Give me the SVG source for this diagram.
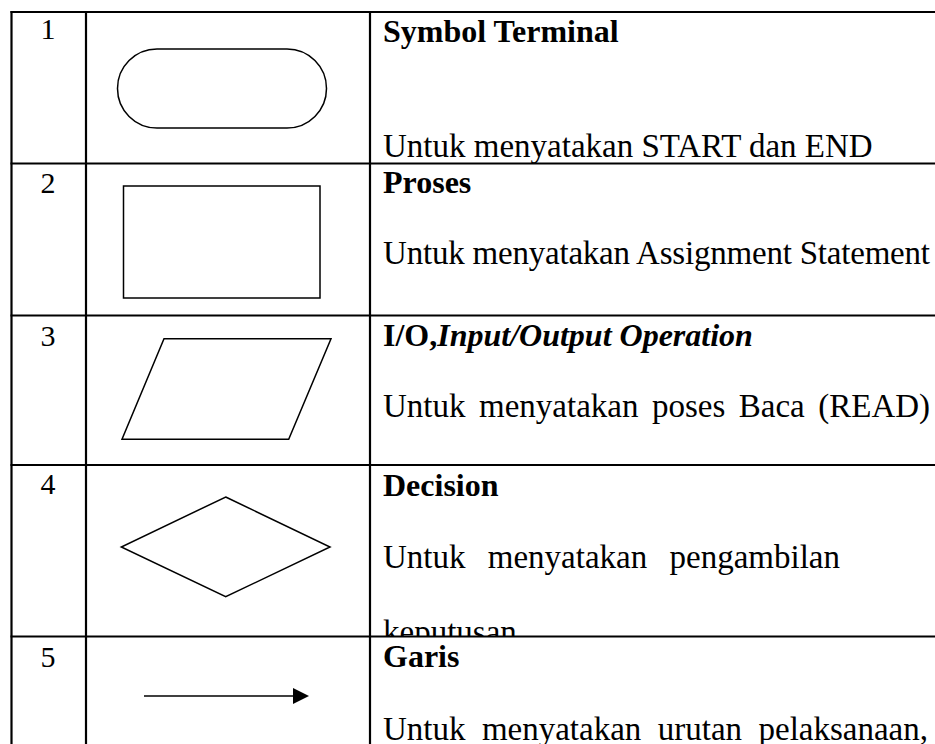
<svg xmlns="http://www.w3.org/2000/svg" width="935" height="744" viewBox="0 0 935 744">
  <style>
    .grid { stroke: #000; stroke-width: 2.2; fill: none; }
    .shape { stroke: #000; stroke-width: 1.5; fill: none; }
    .num { font-family: "Liberation Serif", "Times New Roman", serif; font-size: 30px; fill: #000; text-anchor: middle; }
    .head { font-family: "Liberation Serif", "Times New Roman", serif; font-size: 32px; font-weight: bold; fill: #000; }
    .body { font-family: "Liberation Serif", "Times New Roman", serif; font-size: 33px; fill: #000; }
  </style>
  <defs>
    <clipPath id="cell4">
      <rect x="371" y="466" width="564" height="170"/>
    </clipPath>
  </defs>
  <rect x="0" y="0" width="935" height="744" fill="#fff"/>

  <!-- table rules -->
  <g id="table">
    <line class="grid" x1="10.5" y1="12" x2="935" y2="12"/>
    <line class="grid" x1="10.5" y1="163.5" x2="935" y2="163.5"/>
    <line class="grid" x1="10.5" y1="315.5" x2="935" y2="315.5"/>
    <line class="grid" x1="10.5" y1="465" x2="935" y2="465"/>
    <line class="grid" x1="10.5" y1="636.5" x2="935" y2="636.5"/>
    <line class="grid" x1="11.5" y1="11" x2="11.5" y2="744"/>
    <line class="grid" x1="86" y1="11" x2="86" y2="744"/>
    <line class="grid" x1="370" y1="11" x2="370" y2="744"/>
  </g>

  <!-- row 1: terminal -->
  <g id="row-terminal">
    <text class="num" x="48" y="39">1</text>
    <rect class="shape" x="117.5" y="49" width="209" height="79" rx="39.5" ry="39.5"/>
    <text class="head" x="383" y="42">Symbol Terminal</text>
    <text class="body" x="383" y="157">Untuk menyatakan START dan END</text>
  </g>

  <!-- row 2: process -->
  <g id="row-proses">
    <text class="num" x="48" y="193">2</text>
    <rect class="shape" x="123.5" y="186" width="196.5" height="112"/>
    <text class="head" x="383" y="193">Proses</text>
    <text class="body" x="383" y="264" textLength="547" lengthAdjust="spacing">Untuk menyatakan Assignment Statement</text>
  </g>

  <!-- row 3: input/output -->
  <g id="row-io">
    <text class="num" x="48" y="346">3</text>
    <polygon class="shape" points="164,338.7 331,338.7 288.7,439.3 122,439.3"/>
    <text class="head" x="383" y="346">I/O,<tspan font-style="italic">Input/Output Operation</tspan></text>
    <text class="body" y="417"><tspan x="383">Untuk</tspan><tspan x="479">menyatakan</tspan><tspan x="652">poses</tspan><tspan x="738.8">Baca</tspan><tspan x="818.3">(READ)</tspan></text>
  </g>

  <!-- row 4: decision -->
  <g id="row-decision">
    <text class="num" x="48" y="494">4</text>
    <polygon class="shape" points="225.7,497 330,547 225.7,596.7 121.3,547"/>
    <text class="head" x="383" y="496">Decision</text>
    <text class="body" y="568"><tspan x="383">Untuk</tspan><tspan x="487.75">menyatakan</tspan><tspan x="669.5">pengambilan</tspan></text>
    <text class="body" x="383" y="643" clip-path="url(#cell4)">keputusan</text>
  </g>

  <!-- row 5: flow line -->
  <g id="row-garis">
    <text class="num" x="48" y="667">5</text>
    <line class="shape" x1="144" y1="696" x2="296" y2="696"/>
    <polygon points="293,688 309,696 293,704" fill="#000"/>
    <text class="head" x="383" y="667">Garis</text>
    <text class="body" y="740"><tspan x="383">Untuk</tspan><tspan x="481.9">menyatakan</tspan><tspan x="657.8">urutan</tspan><tspan x="758.5">pelaksanaan,</tspan></text>
  </g>
</svg>
